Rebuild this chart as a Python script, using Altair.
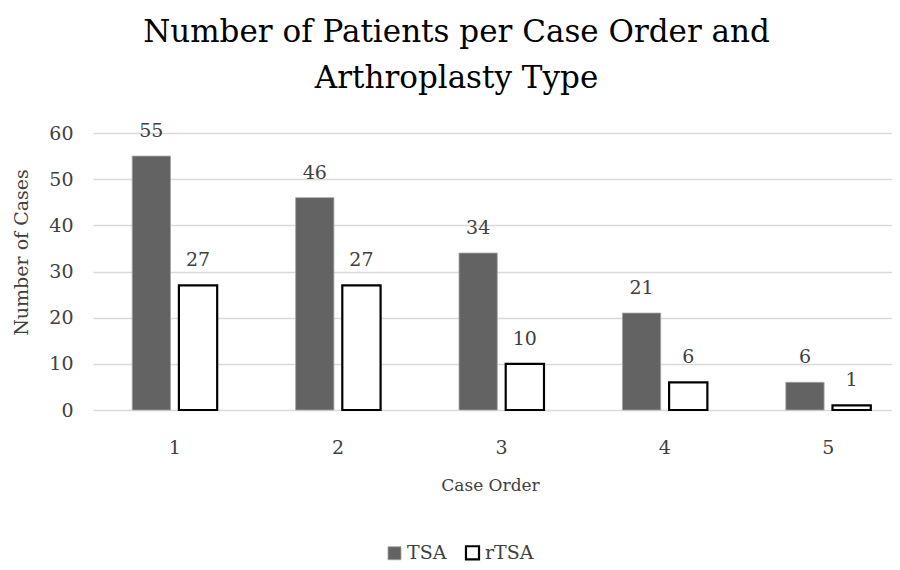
import altair as alt
import pandas as pd

cases = ["1", "2", "3", "4", "5"]
tsa = [55, 46, 34, 21, 6]
rtsa = [27, 27, 10, 6, 1]
series = ["TSA", "rTSA"]

rows = []
for c, a, b in zip(cases, tsa, rtsa):
    rows.append({"case": c, "type": "TSA", "n": a})
    rows.append({"case": c, "type": "rTSA", "n": b})
df = pd.DataFrame(rows)

FONT = "DejaVu Serif"
TXT = "#404040"
FS = 19

x = alt.X("case:N", title="Case Order",
          scale=alt.Scale(range=[0, 817], paddingInner=0.48, paddingOuter=0.24),
          axis=alt.Axis(labelAngle=0, labelFontSize=FS, labelPadding=28, titleFontSize=17,
                        titlePadding=20, titleX=397, domain=False, ticks=False, labelColor=TXT,
                        titleColor=TXT, labelFont=FONT, titleFont=FONT, titleFontWeight="normal"))
xo = alt.XOffset("type:N", scale=alt.Scale(domain=series, paddingInner=0.18))
y = alt.Y("n:Q", title="Number of Cases",
          scale=alt.Scale(domain=[0, 60], nice=False),
          axis=alt.Axis(values=[0, 10, 20, 30, 40, 50, 60], labelFontSize=FS, labelPadding=20,
                        titleFontSize=19, titlePadding=17, titleY=119, domain=False, ticks=False,
                        gridColor="#d9d9d9", gridWidth=1.5, labelColor=TXT, titleColor=TXT,
                        labelFont=FONT, titleFont=FONT, titleFontWeight="normal"))

leg = alt.Legend(title=None, orient="none", legendX=292, legendY=410,
                 direction="horizontal", symbolType="square", symbolSize=170,
                 labelFontSize=19, labelFont=FONT, labelColor=TXT,
                 symbolStrokeWidth=2, columnPadding=14, labelOffset=3)

bars = alt.Chart(df).mark_bar().encode(
    x=x, xOffset=xo, y=y,
    fill=alt.Fill("type:N", scale=alt.Scale(domain=series, range=["#636363", "#ffffff"]), legend=leg),
    stroke=alt.Stroke("type:N", scale=alt.Scale(domain=series, range=["#a6a6a6", "#000000"]), legend=leg),
    strokeWidth=alt.StrokeWidth("type:N", scale=alt.Scale(domain=series, range=[0.8, 2.2]), legend=None),
)

labels = alt.Chart(df).mark_text(baseline="alphabetic", dy=-19, fontSize=FS, font=FONT, color=TXT).encode(
    x=x, xOffset=xo, y=y, text="n:Q"
)

chart = alt.layer(bars, labels).properties(
    width=799, height=277,
    title=alt.Title(["Number of Patients per Case Order and", "Arthroplasty Type"],
                    fontSize=31, font=FONT, fontWeight="normal", color="#000000",
                    lineHeight=46, offset=27, anchor="middle", dx=-36),
    padding={"left": 85, "top": 125, "right": 0, "bottom": 152},
    autosize=alt.AutoSizeParams(type="none"),
).configure_view(stroke=None)

chart.save("out.html", embed_options={"renderer": "svg", "actions": False})
